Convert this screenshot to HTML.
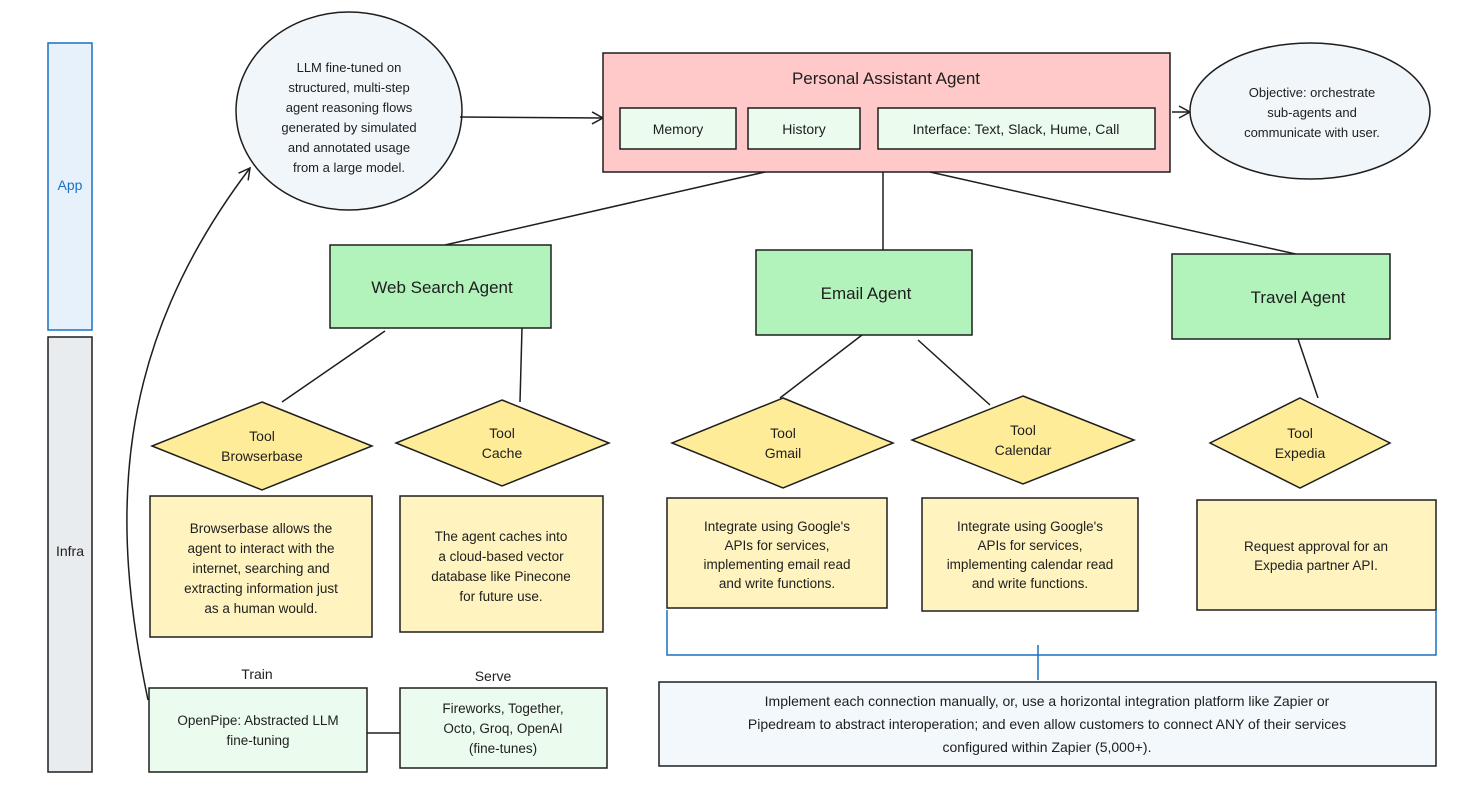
<!DOCTYPE html>
<html><head><meta charset="utf-8"><style>
html,body{margin:0;padding:0;background:#fff;}
svg text{font-family:"Liberation Sans",sans-serif;fill:#1e1e1e;}
</style></head><body>
<svg width="1476" height="786" viewBox="0 0 1476 786" xmlns="http://www.w3.org/2000/svg">
<defs>
<marker id="ar" markerWidth="14" markerHeight="14" refX="12" refY="7" orient="auto" markerUnits="userSpaceOnUse">
<path d="M1,1 L12,7 L1,13" fill="none" stroke="#1e1e1e" stroke-width="1.5"/></marker>
</defs>
<g stroke="#1e1e1e" stroke-width="1.5">
<rect x="48" y="43" width="44" height="287" fill="#e7f1fb" stroke="#1971c2"/>
<text x="70" y="190" font-size="14" text-anchor="middle" style="fill:#1971c2" stroke="none">App</text>
<rect x="48" y="337" width="44" height="435" fill="#e9ecef"/>
<text x="70" y="556" font-size="14" text-anchor="middle" stroke="none">Infra</text>

<ellipse cx="349" cy="111" rx="113" ry="99" fill="#f1f6fb"/>
<g font-size="13" text-anchor="middle" stroke="none">
<text x="349" y="72">LLM fine-tuned on</text>
<text x="349" y="92">structured, multi-step</text>
<text x="349" y="112">agent reasoning flows</text>
<text x="349" y="132">generated by simulated</text>
<text x="349" y="152">and annotated usage</text>
<text x="349" y="172">from a large model.</text>
</g>
<line x1="460" y1="117" x2="603" y2="118" marker-end="url(#ar)"/>

<rect x="603" y="53" width="567" height="119" fill="#ffc9c9"/>
<text x="886" y="84" font-size="17" text-anchor="middle" stroke="none">Personal Assistant Agent</text>
<rect x="620" y="108" width="116" height="41" fill="#ebfbee"/>
<rect x="748" y="108" width="112" height="41" fill="#ebfbee"/>
<rect x="878" y="108" width="277" height="41" fill="#ebfbee"/>
<g font-size="14" text-anchor="middle" stroke="none">
<text x="678" y="134">Memory</text><text x="804" y="134">History</text>
<text x="1016" y="134">Interface: Text, Slack, Hume, Call</text></g>
<line x1="1172" y1="112" x2="1190" y2="112" marker-end="url(#ar)"/>
<ellipse cx="1310" cy="111" rx="120" ry="68" fill="#f1f6fb"/>
<g font-size="13" text-anchor="middle" stroke="none">
<text x="1312" y="97">Objective: orchestrate</text>
<text x="1312" y="117">sub-agents and</text>
<text x="1312" y="137">communicate with user.</text></g>

<line x1="765" y1="172" x2="445" y2="245"/>
<line x1="883" y1="172" x2="883" y2="250"/>
<line x1="930" y1="172" x2="1300" y2="255"/>

<rect x="330" y="245" width="221" height="83" fill="#b2f2bb"/>
<rect x="756" y="250" width="216" height="85" fill="#b2f2bb"/>
<rect x="1172" y="254" width="218" height="85" fill="#b2f2bb"/>
<g font-size="17" text-anchor="middle" stroke="none">
<text x="442" y="293">Web Search Agent</text>
<text x="866" y="299">Email Agent</text>
<text x="1298" y="303">Travel Agent</text></g>

<line x1="385" y1="331" x2="282" y2="402"/>
<line x1="522" y1="328" x2="520" y2="402"/>
<line x1="862" y1="335" x2="780" y2="398"/>
<line x1="918" y1="340" x2="990" y2="405"/>
<line x1="1298" y1="339" x2="1318" y2="398"/>

<g fill="#ffec99">
<polygon points="262,402 372,446 262,490 152,446"/>
<polygon points="502,400 609,443 502,486 396,443"/>
<polygon points="783,398 893,443 783,488 672,443"/>
<polygon points="1023,396 1134,440 1023,484 912,440"/>
<polygon points="1300,398 1390,443 1300,488 1210,443"/>
</g>
<g font-size="14" text-anchor="middle" stroke="none">
<text x="262" y="441">Tool</text><text x="262" y="461">Browserbase</text>
<text x="502" y="438">Tool</text><text x="502" y="458">Cache</text>
<text x="783" y="438">Tool</text><text x="783" y="458">Gmail</text>
<text x="1023" y="435">Tool</text><text x="1023" y="455">Calendar</text>
<text x="1300" y="438">Tool</text><text x="1300" y="458">Expedia</text></g>

<g fill="#fff3bf">
<rect x="150" y="496" width="222" height="141"/>
<rect x="400" y="496" width="203" height="136"/>
<rect x="667" y="498" width="220" height="110"/>
<rect x="922" y="498" width="216" height="113"/>
<rect x="1197" y="500" width="239" height="110"/>
</g>
<g font-size="13.5" text-anchor="middle" stroke="none">
<text x="261" y="533">Browserbase allows the</text>
<text x="261" y="553">agent to interact with the</text>
<text x="261" y="573">internet, searching and</text>
<text x="261" y="593">extracting information just</text>
<text x="261" y="613">as a human would.</text>
<text x="501" y="541">The agent caches into</text>
<text x="501" y="561">a cloud-based vector</text>
<text x="501" y="581">database like Pinecone</text>
<text x="501" y="601">for future use.</text>
<text x="777" y="531">Integrate using Google's</text>
<text x="777" y="550">APIs for services,</text>
<text x="777" y="569">implementing email read</text>
<text x="777" y="588">and write functions.</text>
<text x="1030" y="531">Integrate using Google's</text>
<text x="1030" y="550">APIs for services,</text>
<text x="1030" y="569">implementing calendar read</text>
<text x="1030" y="588">and write functions.</text>
<text x="1316" y="551">Request approval for an</text>
<text x="1316" y="570">Expedia partner API.</text>
</g>

<polyline points="667,610 667,655 1436,655 1436,610" fill="none" stroke="#1971c2"/>
<line x1="1038" y1="645" x2="1038" y2="680" stroke="#1971c2"/>
<rect x="659" y="682" width="777" height="84" fill="#f3f8fc"/>
<g font-size="14" text-anchor="middle" stroke="none">
<text x="1047" y="706">Implement each connection manually, or, use a horizontal integration platform like Zapier or</text>
<text x="1047" y="729">Pipedream to abstract interoperation; and even allow customers to connect ANY of their services</text>
<text x="1047" y="752">configured within Zapier (5,000+).</text></g>

<text x="257" y="679" font-size="14" text-anchor="middle" stroke="none">Train</text>
<text x="493" y="681" font-size="14" text-anchor="middle" stroke="none">Serve</text>
<rect x="149" y="688" width="218" height="84" fill="#ebfbee"/>
<rect x="400" y="688" width="207" height="80" fill="#ebfbee"/>
<line x1="367" y1="733" x2="400" y2="733"/>
<g font-size="13.5" text-anchor="middle" stroke="none">
<text x="258" y="725">OpenPipe: Abstracted LLM</text>
<text x="258" y="745">fine-tuning</text>
<text x="503" y="713">Fireworks, Together,</text>
<text x="503" y="733">Octo, Groq, OpenAI</text>
<text x="503" y="753">(fine-tunes)</text></g>

<path d="M148,700 C110,520 112,350 250,168" fill="none" marker-end="url(#ar)"/>
</g>
</svg>
</body></html>
